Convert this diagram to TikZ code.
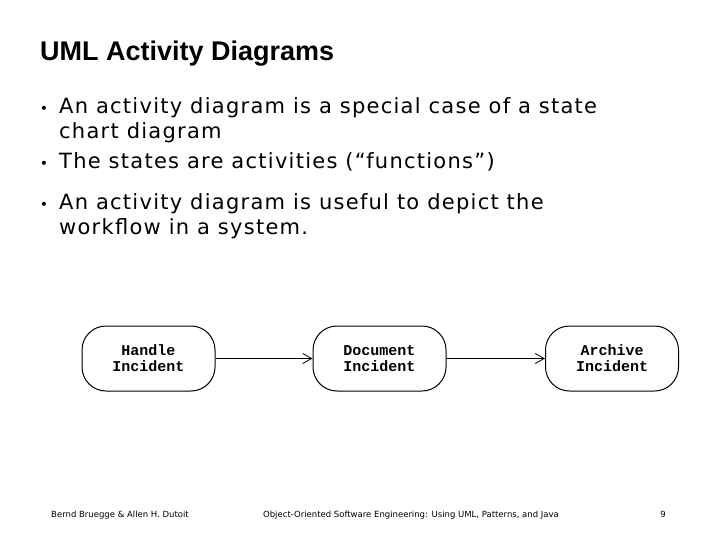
\documentclass[tikz,border=0pt]{standalone}
\usepackage{fontspec}
\setmainfont{DejaVu Sans}
\newfontfamily\titlefont{Liberation Sans}
\newfontfamily\monofont{Liberation Mono}
\newfontfamily\bulfont[LetterSpace=6]{DejaVu Sans}
\usetikzlibrary{arrows.meta}
\begin{document}
\begin{tikzpicture}[x=1pt,y=-1pt,
  act/.style={draw,line width=1pt,rounded corners=24pt,minimum width=133pt,minimum height=65pt,align=center,font=\monofont\bfseries\fontsize{15}{16}\selectfont},
  flow/.style={draw,line width=0.8pt,-{Straight Barb[length=9pt,width=10pt]}},
  bul/.style={anchor=base west,font=\bulfont\fontsize{21}{25}\selectfont,inner sep=0pt},
  foot/.style={anchor=base,font=\fontsize{8.5}{9}\selectfont,inner sep=0pt}]
\useasboundingbox (0,0) rectangle (720,540);
\node[anchor=base west,inner sep=0pt,font=\titlefont\bfseries\fontsize{27}{30}\selectfont] (title) at (40,61) {UML Activity Diagrams};
\node[bul] (b1) at (59,114) {An activity diagram is a special case of a state};
\node[bul] (b1b) at (59,139) {chart diagram};
\node[bul] (b2) at (59,169) {The states are activities (“functions”)};
\node[bul] (b3) at (59,210) {An activity diagram is useful to depict the};
\node[bul] (b3b) at (59,235) {workflow in a system.};
\foreach \y/\n in {114/d1,169/d2,210/d3}
  \node[anchor=base,inner sep=0pt,font=\fontsize{14}{14}\selectfont] (\n) at (44,\y) {•};
\node[act] (h) at (148.5,358.5) {Handle\\Incident};
\node[act] (d) at (379.5,358.5) {Document\\Incident};
\node[act] (a) at (612,358.5) {Archive\\Incident};
\draw[flow] (h) -- (d);
\draw[flow] (d) -- (a);
\node[foot] (f1) at (120,517) {Bernd Bruegge \& Allen H. Dutoit};
\node[foot] (f2) at (411,517) {Object-Oriented Software Engineering: Using UML, Patterns, and Java};
\node[foot] (f3) at (663,517) {9};
\end{tikzpicture}
\end{document}
